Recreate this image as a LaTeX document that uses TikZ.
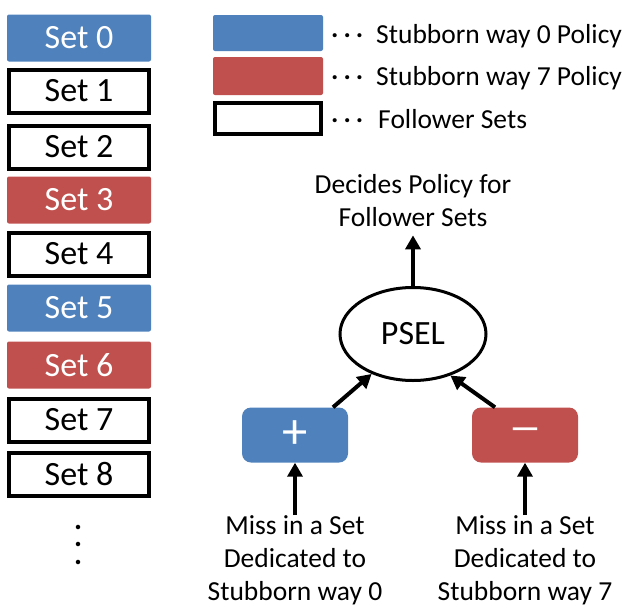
\documentclass[tikz,border=0pt]{standalone}
\usepackage{fontspec}
\setmainfont{Carlito}
\usetikzlibrary{shapes.geometric,arrows.meta}
\definecolor{wayzero}{HTML}{4F81BD}
\definecolor{wayseven}{HTML}{C0504D}
\newcommand{\keydots}{{\bfseries\raisebox{0.22em}{.}\hspace{5pt}\raisebox{0.22em}{.}\hspace{5pt}\raisebox{0.22em}{.}}\hspace{13pt}}
\tikzstyle{setbox} = [rectangle, inner sep=0pt, minimum width=144pt, minimum height=47pt,
    font=\fontsize{34}{40}\selectfont]
\tikzstyle{zerobox} = [setbox, fill=wayzero, text=white, rounded corners=2pt]
\tikzstyle{sevenbox} = [setbox, fill=wayseven, text=white, rounded corners=2pt]
\tikzstyle{followbox} = [setbox, draw=black, fill=white, line width=4pt,
    minimum width=140pt, minimum height=43pt]
\tikzstyle{legendtext} = [anchor=west, inner sep=0pt, font=\fontsize{27.5}{32}\selectfont]
\tikzstyle{signbox} = [rectangle, rounded corners=9pt, minimum width=106pt, minimum height=55pt,
    inner sep=0pt, text=white]
\tikzstyle{bigarrow} = [line width=4pt, -{Triangle[length=14pt,width=15pt]}]
\tikzstyle{plaintext} = [align=center, inner sep=2pt, font=\fontsize{27.5}{33}\selectfont]

\begin{document}
\begin{tikzpicture}[x=1pt, y=-1pt]
                \useasboundingbox (0,0) rectangle (629,608);
                \foreach \i/\s/\y in {0/zerobox/38, 1/followbox/91, 2/followbox/147,
                    3/sevenbox/200, 4/followbox/254, 5/zerobox/308, 6/sevenbox/365,
                    7/followbox/420, 8/followbox/474}
                    \node[\s] (set\i) at (79,\y) {Set \i};
                \node[rotate=-90, anchor=base, inner sep=0pt, font=\bfseries\fontsize{30}{30}\selectfont] (more) at (76,545) {.\hspace{9.5pt}.\hspace{9.5pt}.};
                \node[zerobox, minimum width=110pt, minimum height=36pt] (keyzero) at (268,33) {};
                \node[sevenbox, minimum width=110pt, minimum height=38pt] (keyseven) at (268,76) {};
                \node[followbox, minimum width=106pt, minimum height=31pt] (keyfollow) at (268,118.5) {};
                \node[legendtext] (txtzero) at (331,36) {\keydots Stubborn way 0 Policy};
                \node[legendtext] (txtseven) at (331,78) {\keydots Stubborn way 7 Policy};
                \node[legendtext] (txtfollow) at (331,119) {\keydots\hspace{2pt}Follower Sets};
                \node[plaintext] (decides) at (413,201) {Decides Policy for\\Follower Sets};
                \node[ellipse, draw, line width=3pt, minimum width=146pt, minimum height=93pt,
                    font=\fontsize{34}{40}\selectfont] (psel) at (413,334) {PSEL};
                \node[signbox, fill=wayzero, font=\fontsize{44}{44}\selectfont] (plus) at (295,435) {\scalebox{1.15}[1.15]{+}};
                \node[signbox, fill=wayseven, font=\fontsize{44}{44}\selectfont] (minus) at (525,435) {\scalebox{1.55}[1]{–}};
                \node[plaintext] (missleft) at (295,560) {Miss in a Set\\Dedicated to\\Stubborn way 0};
                \node[plaintext] (missright) at (525,560) {Miss in a Set\\Dedicated to\\Stubborn way 7};
                \draw[bigarrow] (psel.north) -- ([yshift=-6pt]decides.south);
                \draw[bigarrow] ([xshift=38pt]plus.north) -- (psel.224);
                \draw[bigarrow] ([xshift=-30pt]minus.north) -- (psel.312);
                \draw[bigarrow] ([yshift=-2pt]missleft.north) -- (plus.south);
                \draw[bigarrow] ([yshift=-2pt]missright.north) -- (minus.south);
            \end{tikzpicture}
\end{document}
